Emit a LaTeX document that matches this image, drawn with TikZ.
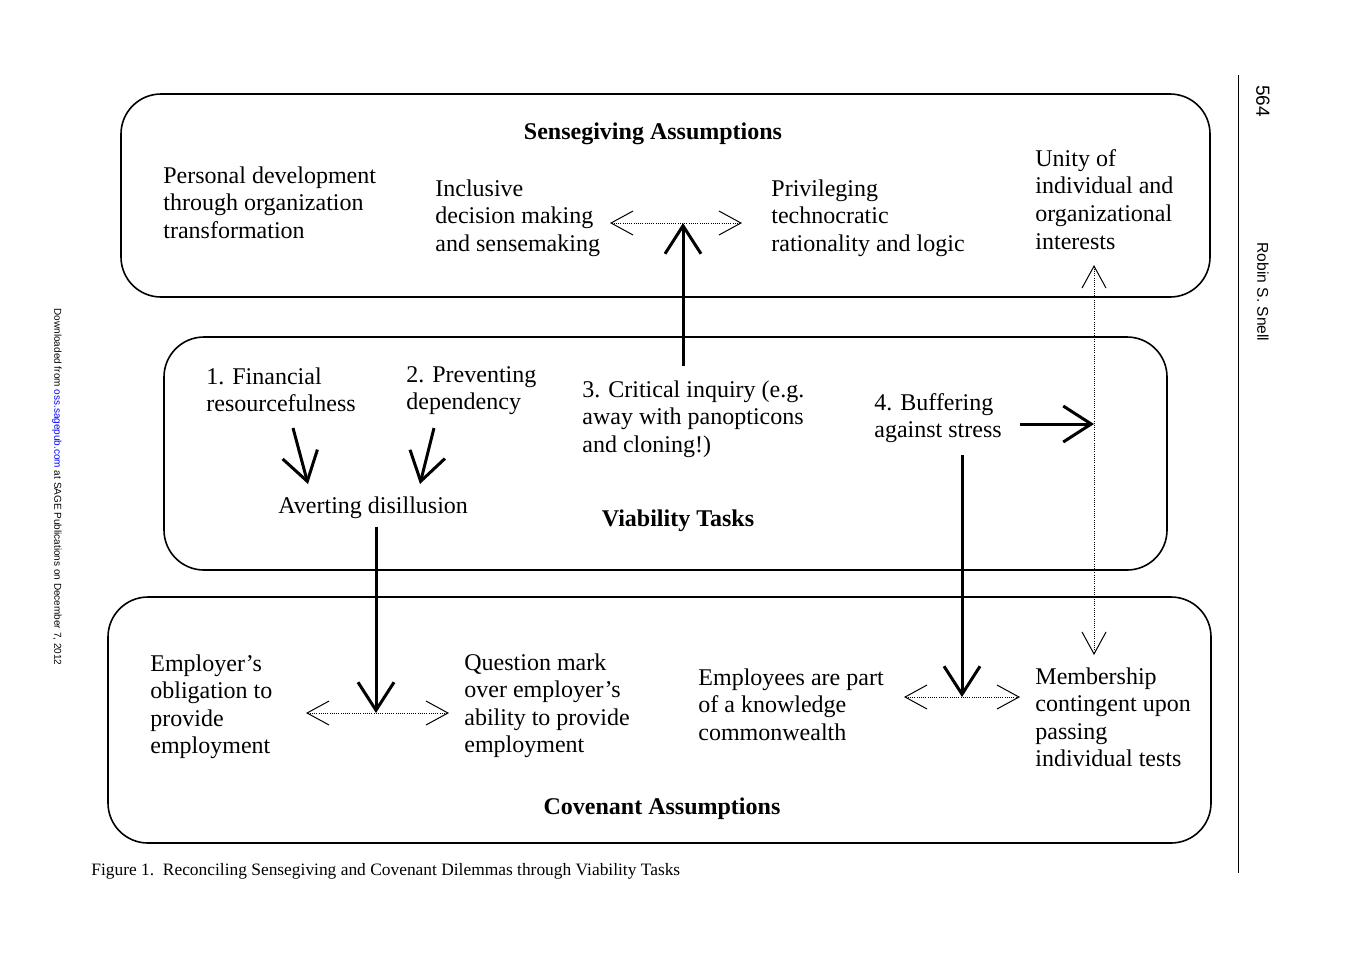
\documentclass[tikz,border=0pt]{standalone}
\usepackage{fontspec}
\setmainfont{Liberation Serif}
\newfontfamily\sansf{Liberation Sans}
\usetikzlibrary{arrows.meta}
\begin{document}
\begin{tikzpicture}[x=0.5pt,y=-0.5pt,
  box/.style={draw,line width=0.8pt,rounded corners=20pt,inner sep=0pt},
  txt/.style={anchor=north west,align=left,inner sep=0pt,font=\fontsize{12}{13.8}\selectfont},
  head/.style={inner sep=0pt,font=\fontsize{12}{13.8}\selectfont\bfseries},
  thick arrow/.style={line width=1.5pt,-{Straight Barb[length=14pt,width=18pt,line width=1.5pt]}},
  thin arrows/.style={line width=0.5pt,dash pattern=on 0.5pt off 0.6pt,{Straight Barb[length=11pt,width=12pt,line width=0.5pt]}-{Straight Barb[length=11pt,width=12pt,line width=0.5pt]}}
]
\useasboundingbox (0,0) rectangle (1352,976);
% boxes
\node[box,minimum width=544.5pt,minimum height=101.5pt] (top) at (665.5,195.5) {};
\node[box,minimum width=501.5pt,minimum height=116.5pt] (mid) at (665.5,453.5) {};
\node[box,minimum width=551.5pt,minimum height=123pt] (bot) at (659.5,720) {};
% headings
\node[head] (h1) at (653,134) {Sensegiving Assumptions};
\node[head] (h2) at (678,521) {Viability Tasks};
\node[head] (h3) at (662,809) {Covenant Assumptions};
% top texts
\node[txt] (pd) at (163,166) {Personal development\\through organization\\transformation};
\node[txt] (inc) at (435,179) {Inclusive\\decision making\\and sensemaking};
\node[txt] (priv) at (771,179) {Privileging\\technocratic\\rationality and logic};
\node[txt] (unity) at (1035,149) {Unity of\\individual and\\organizational\\interests};
% middle texts
\node[txt] (fin) at (206,367) {1. Financial\\resourcefulness};
\node[txt] (prev) at (406,366) {2. Preventing\\dependency};
\node[txt] (crit) at (582,380) {3. Critical inquiry (e.g.\\away with panopticons\\and cloning!)};
\node[txt] (buf) at (874,393) {4. Buffering\\against stress};
\node[txt] (avert) at (278,496) {Averting disillusion};
% bottom texts
\node[txt] (emp) at (150,654) {Employer's\\obligation to\\provide\\employment};
\node[txt] (qm) at (464,653) {Question mark\\over employer's\\ability to provide\\employment};
\node[txt] (epart) at (698,668) {Employees are part\\of a knowledge\\commonwealth};
\node[txt] (memb) at (1035,667) {Membership\\contingent upon\\passing\\individual tests};
% coordinates
\coordinate (tl) at (610,223);
\coordinate (tr) at (742,223);
\coordinate (tm) at (683,223);
\coordinate (cs) at (683,366);
\coordinate (bl1) at (306,713);
\coordinate (br1) at (449,713);
\coordinate (bm1) at (376,713);
\coordinate (as) at (376,527);
\coordinate (bl2) at (904,697);
\coordinate (br2) at (1020,697);
\coordinate (bm2) at (962,697);
\coordinate (bs) at (962,455);
\coordinate (f1) at (293,428);
\coordinate (f2) at (308,484);
\coordinate (p1) at (434,428);
\coordinate (p2) at (420,484);
\coordinate (vt) at (1094,265);
\coordinate (vb) at (1094,655);
\coordinate (vm) at (1094,424);
\coordinate (bst) at (1020,424);
% connectors
\draw[thin arrows] (tl) -- (tr);
\draw[thin arrows] (bl1) -- (br1);
\draw[thin arrows] (bl2) -- (br2);
\draw[thin arrows] (vt) -- (vb);
\draw[thick arrow] (cs) -- (tm);
\draw[thick arrow] (as) -- (bm1);
\draw[thick arrow] (bs) -- (bm2);
\draw[thick arrow] (f1) -- (f2);
\draw[thick arrow] (p1) -- (p2);
\draw[thick arrow] (bst) -- (vm);
% page furniture
\coordinate (rl1) at (1238,75);
\coordinate (rl2) at (1238,873);
\draw[line width=0.5pt] (rl1) -- (rl2);
\node[rotate=-90,inner sep=0pt,font=\sansf\fontsize{9.5}{11}\selectfont] (pg) at (1263,101) {564};
\node[rotate=-90,inner sep=0pt,font=\sansf\fontsize{7.8}{9}\selectfont] (auth) at (1263,292) {Robin S. Snell};
\node[rotate=-90,inner sep=0pt,font=\sansf\fontsize{5}{6}\selectfont] (dl) at (57,487) {Downloaded from \textcolor{blue}{oss.sagepub.com} at SAGE Publications on December 7, 2012};
\node[anchor=west,inner sep=0pt,font=\fontsize{8.7}{10}\selectfont] (cap) at (91,871) {Figure 1.\ \ Reconciling Sensegiving and Covenant Dilemmas through Viability Tasks};
\end{tikzpicture}
\end{document}
